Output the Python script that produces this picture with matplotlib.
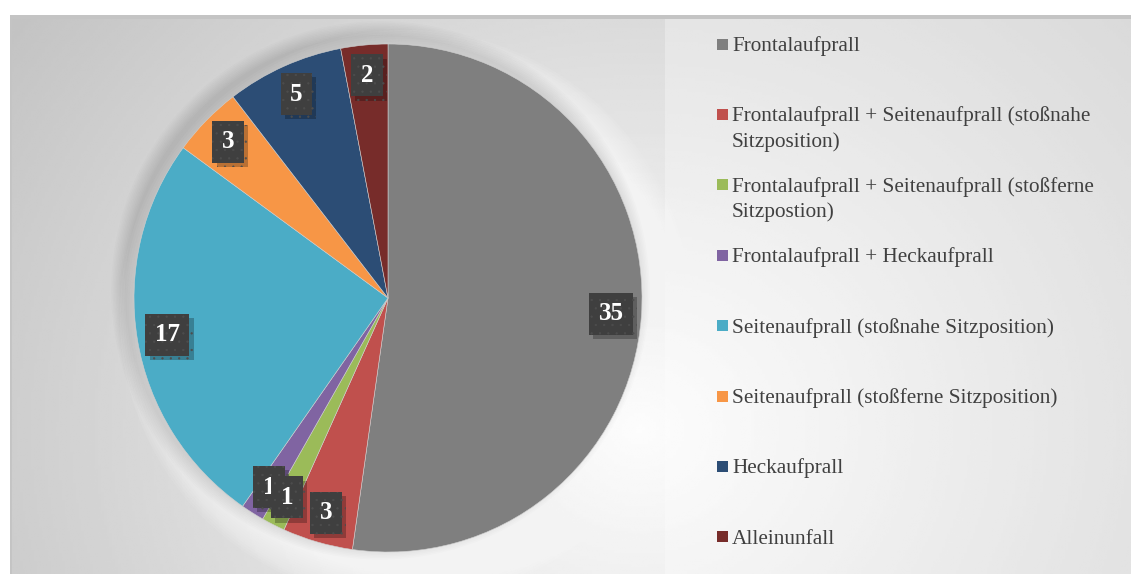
import numpy as np
import matplotlib
matplotlib.use("Agg")
import matplotlib.pyplot as plt
from matplotlib.patches import Rectangle, Circle
import matplotlib.patheffects as pe

plt.rcParams['font.family'] = ['Liberation Serif', 'DejaVu Serif']
plt.rcParams['hatch.linewidth'] = 0.4

# data
categories = [
    "Frontalaufprall",
    "Frontalaufprall + Seitenaufprall (stoßnahe\nSitzposition)",
    "Frontalaufprall + Seitenaufprall (stoßferne\nSitzpostion)",
    "Frontalaufprall + Heckaufprall",
    "Seitenaufprall (stoßnahe Sitzposition)",
    "Seitenaufprall (stoßferne Sitzposition)",
    "Heckaufprall",
    "Alleinunfall",
]
counts = [35, 3, 1, 1, 17, 3, 5, 2]
colors = ["#7f7f7f", "#c0504d", "#9bbb59", "#8064a2",
          "#4bacc6", "#f79646", "#2c4d75", "#772c2a"]

W, H = 1131, 574
fig = plt.figure(figsize=(W / 100, H / 100), dpi=100)
fig.patch.set_facecolor("white")

# background with radial gradient
bg = fig.add_axes([10 / W, 0, 1 - 10 / W, (H - 15) / H])
xx, yy = np.meshgrid(np.linspace(10, W, 400), np.linspace(15, H, 200))
d = np.sqrt(((xx - 640) / 1.0) ** 2 + ((yy - 430) / 0.9) ** 2)
val = np.clip(0.99 - 0.00029 * d, 0, 1)
bg.imshow(val, cmap="gray", vmin=0, vmax=1, extent=[10, W, H, 15],
          aspect="auto", interpolation="bilinear")
bg.add_patch(Rectangle((665, 19), W - 665, H - 19, facecolor="white",
                       alpha=0.3, lw=0))
bg.add_patch(Rectangle((10, 15), W - 10, 4, facecolor="#c4c4c4", lw=0))
bg.add_patch(Rectangle((10, 15), 1.5, H - 15, facecolor="#c4c4c4", lw=0))
bg.set_xlim(10, W)
bg.set_ylim(H, 15)
bg.axis("off")

# pie
cx, cy, r = 388, 298, 254
ax = fig.add_axes([(cx - r) / W, 1 - (cy + r) / H, 2 * r / W, 2 * r / H])

# soft glow (bottom right) and shade (top left) around the pie
for k in range(14):
    rr = 1.0 + 0.009 * (14 - k)
    ax.add_patch(Circle((0.07, -0.07), rr, facecolor="white", alpha=0.08,
                        lw=0, clip_on=False))
for k in range(10):
    rr = 1.0 + 0.006 * (10 - k)
    ax.add_patch(Circle((-0.03, 0.03), rr, facecolor="black", alpha=0.012,
                        lw=0, clip_on=False))

total = sum(counts)
wedges, texts, autotexts = ax.pie(
    counts, colors=colors, startangle=90, counterclock=False,
    autopct=lambda p: f"{round(p * total / 100)}", pctdistance=0.88,
    wedgeprops=dict(edgecolor="#d0d0d0", linewidth=0.4),
)
ax.set_xlim(-1, 1)
ax.set_ylim(-1, 1)

for i, t in enumerate(autotexts):
    t.set_fontsize(18)
    t.set_fontweight("bold")
    t.set_color("white")
    t.set_zorder(10 - 0.1 * i)
    t.set_bbox(dict(boxstyle="square,pad=0.38", fc="#3f3f3f", ec="#4d4d4d",
                    hatch="..", lw=0))
    t.get_bbox_patch().set_path_effects([
        pe.SimplePatchShadow(offset=(3, -3), shadow_rgbFace="black", alpha=0.25),
        pe.Normal(),
    ])

# legend
y0, step, line_h = 44, 70.4, 25.3
for i, (lab, c) in enumerate(zip(categories, colors)):
    y = y0 + i * step
    fig.patches.append(Rectangle(((722 - 5.5) / W, 1 - (y + 5.5) / H), 11 / W, 11 / H,
                                 facecolor=c, lw=0, transform=fig.transFigure))
    for j, line in enumerate(lab.split("\n")):
        fig.text(732 / W, 1 - (y + 7 + j * line_h) / H, line, ha="left",
                 va="baseline", fontsize=15.3, color="#404040")

fig.savefig("out.png", dpi=100)
